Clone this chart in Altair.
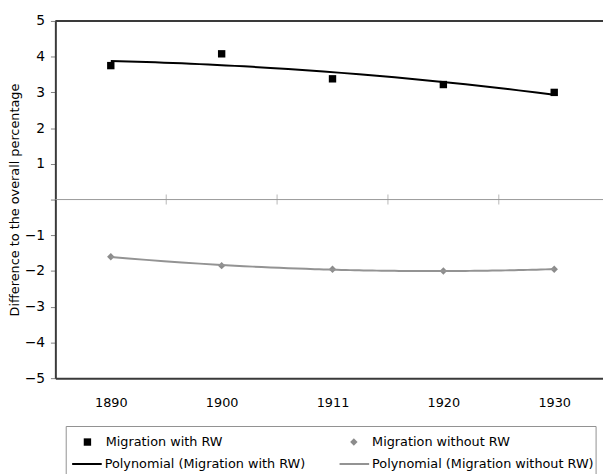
import altair as alt
import pandas as pd

# ---- data ----
years = ["1890", "1900", "1911", "1920", "1930"]
idx = [1, 2, 3, 4, 5]
with_rw = [3.75, 4.08, 3.38, 3.22, 3.00]
without_rw = [-1.60, -1.85, -1.95, -2.00, -1.95]
series_names = ["Migration with RW", "Migration without RW"]
trend_names = ["Polynomial (Migration with RW)", "Polynomial (Migration without RW)"]
y_ticks = [-5, -4, -3, -2, -1, 0, 1, 2, 3, 4, 5]
boundaries = [1.5, 2.5, 3.5, 4.5]

df = pd.DataFrame({
    "idx": idx + idx,
    "year": years + years,
    "value": with_rw + without_rw,
    "series": [series_names[0]] * 5 + [series_names[1]] * 5,
})

FONT = "DejaVu Sans"
BLACK = "#000000"
GRAY = "#939393"
FRAME = "#3a3a3a"
Y_TITLE = "Difference to the overall percentage"

label_expr = "[" + ",".join("'%s'" % y for y in years) + "][datum.value - 1]"

x_scale = alt.Scale(domain=[0.5, 5.44], nice=False, zero=False)
y_scale = alt.Scale(domain=[-5, 5], nice=False)

x_axis = alt.Axis(values=idx, labelExpr=label_expr, ticks=False, tickSize=0,
                  grid=False, domainColor=FRAME, domainWidth=2,
                  labelFont=FONT, labelFontSize=13, labelColor="black",
                  labelPadding=19)
y_axis = alt.Axis(values=y_ticks, labelOverlap=False,
                  labelExpr="datum.value == 0 ? '' : replace(datum.label, '-', '\u2212')",
                  grid=False, domainColor=FRAME, domainWidth=2,
                  tickColor="#808080", tickSize=5, labelPadding=6,
                  labelFont=FONT, labelFontSize=14, labelColor="black",
                  titleFont=FONT, titleFontSize=13, titleFontWeight="normal",
                  titleColor="black", titlePadding=3)


def xq(field):
    return alt.X(field, type="quantitative", scale=x_scale, axis=x_axis, title=None)


def yq(field):
    return alt.Y(field, type="quantitative", scale=y_scale, axis=y_axis, title=Y_TITLE)


pts_legend = alt.Legend(title=None, orient="none", legendX=26, legendY=420,
                        direction="horizontal", columnPadding=126,
                        labelOffset=12, symbolSize=56, padding=0, labelLimit=0,
                        labelFont=FONT, labelFontSize=13, labelColor="black",
                        symbolStrokeWidth=0)

base = alt.Chart(df)

points = base.mark_point(filled=True, opacity=1, size=56).encode(
    x=xq("idx"),
    y=yq("value"),
    color=alt.Color("series:N",
                    scale=alt.Scale(domain=series_names, range=[BLACK, "#8c8c8c"]),
                    legend=pts_legend),
    shape=alt.Shape("series:N",
                    scale=alt.Scale(domain=series_names, range=["square", "diamond"]),
                    legend=pts_legend),
)

trend = base.transform_regression(
    "idx", "value", groupby=["series"], method="poly", order=2
).transform_calculate(
    trend="'Polynomial (' + datum.series + ')'"
).mark_line(strokeWidth=2).encode(
    x=xq("idx"),
    y=yq("value"),
    stroke=alt.Stroke("trend:N",
                      scale=alt.Scale(domain=trend_names, range=[BLACK, GRAY]),
                      legend=alt.Legend(title=None, orient="none", legendX=16, legendY=433,
                                        direction="horizontal", columnPadding=30,
                                        labelOffset=2, symbolSize=900, symbolType="stroke",
                                        symbolStrokeWidth=2, padding=0, labelLimit=0,
                                        labelFont=FONT, labelFontSize=13, labelColor="black")),
)

top_rule = alt.Chart(pd.DataFrame({"value": [5]})).mark_rule(color=FRAME, strokeWidth=2).encode(
    y=yq("value"))
zero_rule = alt.Chart(pd.DataFrame({"value": [0]})).mark_rule(color="#999999", strokeWidth=1).encode(
    y=yq("value"))
zero_ticks = alt.Chart(pd.DataFrame({"idx": boundaries, "value": [0] * len(boundaries)})).mark_tick(
    orient="vertical", size=10, thickness=1, color="#999999").encode(
    x=xq("idx"), y=yq("value"))

legend_box = alt.Chart(pd.DataFrame({"a": [0]})).mark_rect(
    fill=None, stroke="#909090", strokeWidth=1).encode(
    x=alt.value(11), x2=alt.value(548), y=alt.value(411), y2=alt.value(520))

chart = alt.layer(
    legend_box, zero_rule, zero_ticks, top_rule, points, trend
).properties(
    width=555, height=362,
    padding={"left": 48, "top": 10, "right": 0, "bottom": 94},
    autosize="none",
    background="white",
).configure_view(stroke=None)

chart.save("out.html", embed_options={"renderer": "svg", "actions": False})
